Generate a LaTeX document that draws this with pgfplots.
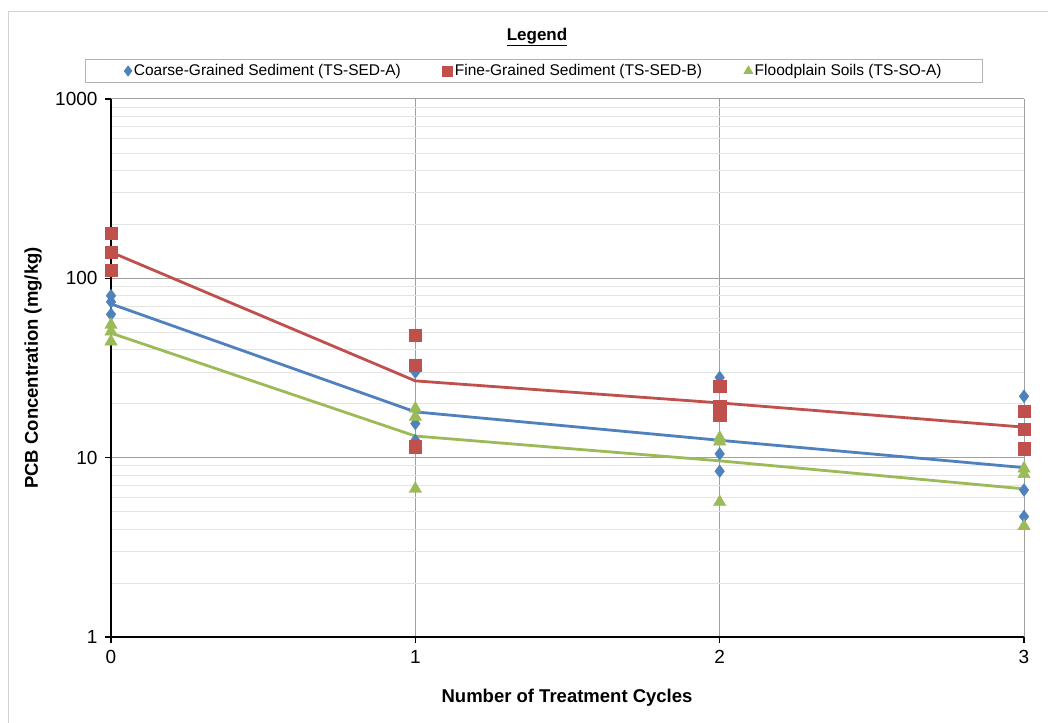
\documentclass[border=0pt]{standalone}
\usepackage{fontspec}
\setmainfont{Liberation Sans}
\usepackage{pgfplots}
\pgfplotsset{compat=1.18}
\definecolor{cblue}{HTML}{4F81BD}
\definecolor{cred}{HTML}{C0504D}
\definecolor{cgreen}{HTML}{9BBB59}
\definecolor{gmaj}{HTML}{A0A0A0}
\definecolor{gmin}{HTML}{E4E4E4}
\begin{document}
\begin{tikzpicture}
\useasboundingbox (0,0) rectangle (1048pt,722pt);
\fill[white] (0,0) rectangle (1048pt,722pt);
\draw[gray!35, line width=1pt] (8.5pt,-20pt) rectangle (1070pt,710pt);
\node[font=\bfseries\fontsize{17}{20}\selectfont] at (537pt,685pt) {\underline{Legend}};
\begin{axis}[
  at={(111pt,85pt)}, anchor=south west,
  scale only axis, width=913pt, height=538pt,
  xmin=0, xmax=3, ymin=1, ymax=1000,
  ymode=log,
  xtick={0,1,2,3}, xticklabels={0,1,2,3},
  ytick={1,10,100,1000}, yticklabels={1,10,100,1000},
  axis x line*=bottom, axis y line*=left,
  axis line style={-, black, line width=2.2pt},
  tick align=outside,
  major tick length=6pt, minor tick length=0pt,
  tick style={black, line width=1.2pt},
  xmajorgrids, ymajorgrids, yminorgrids,
  major grid style={gmaj, line width=1pt},
  minor grid style={gmin, line width=0.9pt},
  tick label style={font=\fontsize{19}{22}\selectfont},
  yticklabel style={xshift=-4pt},
  xticklabel style={yshift=-4pt},
  xlabel={Number of Treatment Cycles},
  ylabel={PCB Concentration (mg/kg)},
  every axis x label/.style={at={(axis description cs:0.4995,-0.1134)}, anchor=center,
    font=\bfseries\fontsize{18.5}{21}\selectfont},
  every axis y label/.style={at={(axis description cs:-0.0854,0.5)}, rotate=90, anchor=center,
    font=\bfseries\fontsize{18.5}{21}\selectfont},
  legend columns=3,
  legend cell align=left,
  legend style={at={(0.4633,1.052)}, anchor=center, draw=gray!60, line width=0.8pt,
    font=\fontsize{15.5}{18}\selectfont,
    /tikz/every even column/.append style={column sep=40pt},
    inner xsep=39pt, inner ysep=3pt},
  legend image code/.code={\draw[#1, mark size=5pt] plot coordinates {(0pt,0pt)};},
]
% trend lines
\addplot[cblue, line width=2.8pt, forget plot] coordinates {(0,72) (1,18.0) (2,12.5) (3,8.8)};
\addplot[cred, line width=2.8pt, forget plot] coordinates {(0,140) (1,26.8) (2,20.2) (3,14.8)};
\addplot[cgreen, line width=2.8pt, forget plot] coordinates {(0,49.5) (1,13.2) (2,9.6) (3,6.7)};
% data points
\addplot[only marks, mark=diamond*, mark size=6.4pt, color=cblue]
  coordinates {(0,80) (0,74) (0,63) (1,30) (1,15.5) (1,12.5) (2,28) (2,10.5) (2,8.4) (3,22) (3,6.6) (3,4.7)};
\addlegendentry{Coarse-Grained Sediment (TS-SED-A)}
\addplot[only marks, mark=square*, mark size=6.2pt, color=cred]
  coordinates {(0,178) (0,140) (0,111) (1,48.3) (1,32.8) (1,11.5) (2,25.1) (2,19.4) (2,17.4) (3,18.2) (3,14.4) (3,11.2)};
\addlegendentry{Fine-Grained Sediment (TS-SED-B)}
\addplot[only marks, mark=triangle*, mark size=7.2pt, color=cgreen]
  coordinates {(0,55) (0,50.5) (0,44.4) (1,18.8) (1,16.9) (1,6.7) (2,12.9) (2,12.3) (2,5.65) (3,8.7) (3,8.1) (3,4.15)};
\addlegendentry{Floodplain Soils (TS-SO-A)}
\end{axis}
\end{tikzpicture}
\end{document}
